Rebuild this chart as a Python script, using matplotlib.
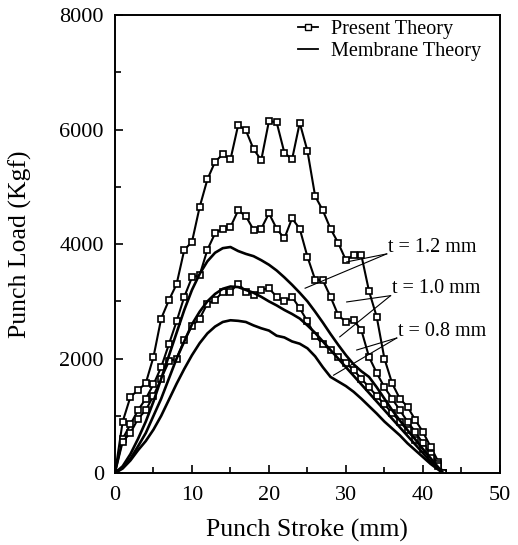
import numpy as np
import matplotlib
matplotlib.use('Agg')
import matplotlib.pyplot as plt
from matplotlib.lines import Line2D
from matplotlib.ticker import MultipleLocator

plt.rcParams['font.family'] = ['Liberation Serif', 'DejaVu Serif']

# punch stroke (mm), one point per mm
stroke = list(range(0, 43)) + [42.6]

# present theory (square markers), Kgf
present_12 = [0, 900, 1330, 1450, 1570, 2030, 2700, 3020, 3300, 3900, 4040,
              4650, 5130, 5440, 5570, 5480, 6080, 5990, 5660, 5470, 6150,
              6130, 5600, 5480, 6120, 5630, 4840, 4590, 4270, 4020, 3720,
              3810, 3810, 3180, 2730, 2000, 1570, 1300, 1160, 930, 720,
              460, 200, 0]
present_10 = [0, 600, 850, 1100, 1300, 1550, 1850, 2250, 2650, 3080, 3420,
              3460, 3900, 4190, 4270, 4300, 4590, 4490, 4250, 4270, 4540,
              4270, 4100, 4450, 4270, 3780, 3380, 3370, 3080, 2760, 2640,
              2670, 2500, 2030, 1750, 1500, 1300, 1100, 900, 720, 520,
              330, 150, 0]
present_08 = [0, 550, 700, 950, 1100, 1350, 1650, 1950, 2000, 2320, 2570,
              2700, 2960, 3020, 3170, 3170, 3310, 3170, 3110, 3200, 3230,
              3080, 3000, 3080, 2880, 2650, 2400, 2250, 2150, 2030, 1920,
              1800, 1650, 1500, 1350, 1200, 1050, 900, 750, 580, 420,
              260, 120, 0]

# membrane theory (solid lines), Kgf
membrane_12 = [0, 120, 330, 600, 900, 1250, 1650, 2050, 2450, 2850, 3200,
               3480, 3700, 3850, 3930, 3950, 3880, 3830, 3790, 3720, 3640,
               3540, 3420, 3290, 3150, 3000, 2820, 2630, 2430, 2240, 2060,
               1900, 1780, 1680, 1500, 1300, 1100, 920, 750, 590, 420,
               260, 100, 0]
membrane_10 = [0, 100, 250, 470, 700, 1000, 1300, 1650, 2000, 2300, 2600,
               2820, 3000, 3130, 3220, 3260, 3250, 3200, 3150, 3080, 3000,
               2930, 2850, 2780, 2700, 2580, 2450, 2300, 2150, 2000, 1850,
               1700, 1550, 1400, 1250, 1100, 950, 800, 650, 500, 350,
               200, 80, 0]
membrane_08 = [0, 80, 220, 400, 560, 760, 1000, 1280, 1560, 1820, 2060,
               2270, 2440, 2560, 2640, 2670, 2660, 2640, 2580, 2530, 2490,
               2400, 2370, 2300, 2260, 2180, 2040, 1850, 1680, 1600, 1520,
               1420, 1300, 1170, 1040, 900, 780, 660, 520, 400, 280,
               160, 60, 0]

thickness_labels = ['t = 1.2 mm', 't = 1.0 mm', 't = 0.8 mm']
label_xy = [(35.5, 3950), (36.0, 3220), (36.8, 2480)]
# pointer targets for each label
pointer_xy = [[(30.1, 3690), (24.7, 3230)],
              [(30.1, 2990), (29.2, 2380)],
              [(31.4, 2150), (28.4, 1710)]]

fig = plt.figure(figsize=(5.18, 5.45), dpi=100)
ax = fig.add_axes([0.222, 0.132, 0.743, 0.840])

for ys in [present_12, present_10, present_08]:
    ax.plot(stroke, ys, color='black', lw=1.5, marker='s', ms=5,
            mfc='white', mec='black', mew=1.2)
for ys in [membrane_12, membrane_10, membrane_08]:
    ax.plot(stroke, ys, color='black', lw=1.9)

for lab, (tx, ty), pts in zip(thickness_labels, label_xy, pointer_xy):
    ax.text(tx, ty, lab, fontsize=14.5, va='center', ha='left')
    for px, py in pts:
        ax.plot([tx - 0.2, px], [ty - 120, py], color='black', lw=0.8)

ax.set_xlim(0, 50)
ax.set_ylim(0, 8000)
ax.xaxis.set_major_locator(MultipleLocator(10))
ax.xaxis.set_minor_locator(MultipleLocator(5))
ax.yaxis.set_major_locator(MultipleLocator(2000))
ax.yaxis.set_minor_locator(MultipleLocator(1000))
ax.tick_params(which='both', direction='in', labelsize=16, width=1.2)
ax.tick_params(which='major', length=6)
ax.tick_params(which='minor', length=4)
ax.tick_params(axis='x', pad=9)
ax.tick_params(axis='y', pad=8)
for s in ax.spines.values():
    s.set_linewidth(1.4)

ax.set_xlabel('Punch Stroke (mm)', fontsize=18.5)
ax.set_ylabel('Punch Load (Kgf)', fontsize=18.5)
ax.xaxis.set_label_coords(0.5, -0.10)
ax.yaxis.set_label_coords(-0.215, 0.5)

handles = [Line2D([], [], color='black', lw=1.3, marker='s', ms=4,
                  mfc='white', mec='black'),
           Line2D([], [], color='black', lw=1.3)]
ax.legend(handles, ['Present Theory', 'Membrane Theory'], loc='upper right',
          bbox_to_anchor=(0.95, 0.99), frameon=False, fontsize=14.5,
          handlelength=1.0, handletextpad=0.6, labelspacing=0.15,
          borderpad=0, borderaxespad=0)

fig.savefig('out.png', dpi=100)
